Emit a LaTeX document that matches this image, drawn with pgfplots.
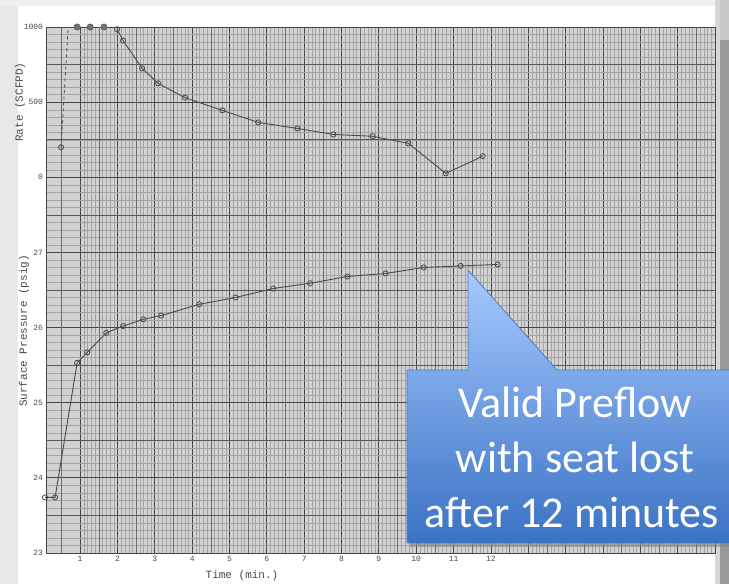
\documentclass[border=0pt]{standalone}
\usepackage{pgfplots}
\pgfplotsset{compat=1.18}
\usepackage{pgfplotstable}
\usepackage{fontspec}
\setmonofont{Liberation Mono}
\newfontfamily\calibri{Carlito}
\definecolor{paper}{HTML}{D2D2D2}
\definecolor{inkc}{HTML}{4A4A4A}
\definecolor{ctop}{HTML}{A7CAFF}
\definecolor{cbot}{HTML}{3A72C4}
\definecolor{cedge}{HTML}{4A7EBB}

\pgfplotstableread{
t r
0.49 200
}\ratestart
\pgfplotstableread{
t r
0.49 200
0.68 1000
}\ratedash
\pgfplotstableread{
t r
0.92 1000
1.27 1000
1.64 1000
}\ratetop
\pgfplotstableread{
t r
1.99 985
2.15 910
2.66 725
3.09 625
3.81 530
4.81 445
5.77 365
6.82 325
7.78 285
8.83 273
9.79 226
10.79 26
11.78 140
}\ratemain
\pgfplotstableread{
t p
0.06 23.74
0.33 23.74
0.92 25.53
1.19 25.67
1.70 25.93
2.15 26.02
2.69 26.11
3.17 26.16
4.19 26.31
5.16 26.40
6.17 26.52
7.16 26.59
8.16 26.68
9.18 26.72
10.20 26.80
11.19 26.82
12.18 26.84
}\pressure

\begin{document}
\begin{tikzpicture}[x=1pt,y=1pt]
\useasboundingbox (0,0) rectangle (729,584);
\clip (0,0) rectangle (729,584);
\fill[white] (0,0) rectangle (729,584);
\fill[black!9] (0,0) rectangle (18,584);
\fill[black!6] (0,578) rectangle (729,584);
\fill[black!16] (715,0) rectangle (720,584);
\fill[black!40] (720,0) rectangle (729,544);
\fill[black!22] (720,544) rectangle (729,584);

\begin{axis}[
  at={(46.5pt,31pt)}, anchor=south west,
  scale only axis, width=668.5pt, height=526pt,
  xmin=0.1, xmax=18, ymin=23, ymax=30,
  clip=false,
  axis background/.style={fill=paper},
  xtick={1,...,18},
  xticklabels={1,2,3,4,5,6,7,8,9,10,11,12,,,,,,},
  ytick={23,...,30},
  yticklabels={23,24,25,26,27,0,500,1000},
  extra x ticks={0.5,1.5,...,17.5},
  extra x tick labels={},
  extra x tick style={major grid style={black!58, line width=0.55pt}},
  extra y ticks={23.5,24.5,...,29.5},
  extra y tick labels={},
  extra y tick style={major grid style={black!65, line width=0.7pt}},
  minor x tick num=9,
  minor y tick num=9,
  grid=both,
  major grid style={black!72, line width=0.8pt},
  minor grid style={black!36, line width=0.3pt},
  major tick length=0pt, minor tick length=0pt,
  tick label style={font=\ttfamily\fontsize{8}{9}\selectfont, text=inkc},
  axis line style={black!72, line width=0.9pt},
]
\addplot[inkc, dashed, line width=0.8pt] table[x=t, y expr=28+\thisrow{r}/500] {\ratedash};
\addplot[only marks, mark=o, mark size=2.6pt, mark options={inkc, fill=paper, line width=0.8pt}] table[x=t, y expr=28+\thisrow{r}/500] {\ratestart};
\addplot[only marks, mark=*, mark size=3.2pt, mark options={draw=inkc, fill=black!55}] table[x=t, y expr=28+\thisrow{r}/500] {\ratetop};
\addplot[inkc, line width=0.9pt, mark=o, mark size=2.6pt, mark options={fill=paper, line width=0.8pt}] table[x=t, y expr=28+\thisrow{r}/500] {\ratemain};
\addplot[inkc, line width=0.9pt, mark=o, mark size=2.6pt, mark options={fill=paper, line width=0.8pt}] table[x=t, y=p] {\pressure};
\end{axis}

% axis labels
\node[rotate=90, font=\ttfamily\fontsize{11}{12}\selectfont, text=inkc] at (20,482) {Rate (SCFPD)};
\node[rotate=90, font=\ttfamily\fontsize{11}{12}\selectfont, text=inkc] at (24,253) {Surface Pressure (psig)};
\node[font=\ttfamily\fontsize{11}{12}\selectfont, text=inkc] at (242,8) {Time (min.)};

% callout
\fill[black!50, opacity=0.55] (410,37) -- (410,210) -- (735,210) -- (735,37) -- cycle;
\shade[top color=ctop, bottom color=cbot, draw=cedge, line width=0.8pt]
  (407,41) -- (407,214) -- (468,214) -- (468,314) -- (557,214) -- (740,214) -- (740,41) -- cycle;
\node[anchor=base, font=\calibri\fontsize{44}{52}\selectfont, text=white] at (575,166) {Valid Preflow};
\node[anchor=base, font=\calibri\fontsize{44}{52}\selectfont, text=white] at (575,111) {with seat lost};
\node[anchor=base, font=\calibri\fontsize{44}{52}\selectfont, text=white] at (572,56) {after 12 minutes};
\end{tikzpicture}
\end{document}
